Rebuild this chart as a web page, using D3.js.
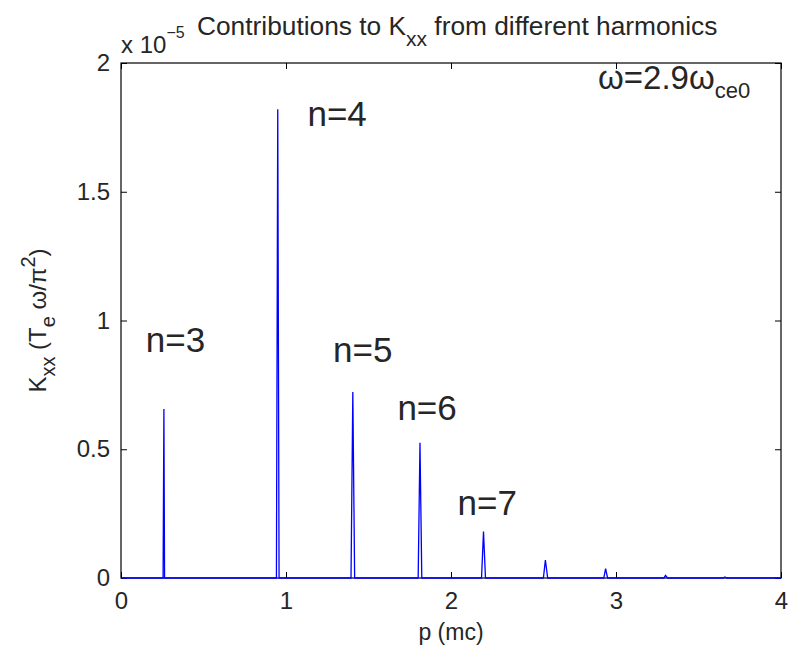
<!DOCTYPE html>
<html><head><meta charset="utf-8">
<script src="https://cdn.jsdelivr.net/npm/d3@7"></script>
<style>body{margin:0;background:#fff}svg{display:block}text{font-family:"Liberation Sans",Arial,sans-serif;fill:#262626}</style>
</head><body><svg id="c" width="792" height="647"></svg>
<script>
// momentum p (mc) and K_xx (units of 1e-5)
const pValues = [0, 0.255, 0.26, 0.264, 0.942, 0.95, 0.958, 1.394, 1.405, 1.416, 1.801, 1.812, 1.823, 2.185, 2.197, 2.209, 2.56, 2.572, 2.586, 2.926, 2.937, 2.949, 3.29, 3.30, 3.312, 3.65, 3.66, 3.672, 4];
const kValues = [0, 0, 0.656, 0, 0, 1.82, 0, 0, 0.722, 0, 0, 0.525, 0, 0, 0.18, 0, 0, 0.07, 0, 0, 0.036, 0, 0, 0.01, 0, 0, 0.004, 0, 0];
const xTicks = [0, 1, 2, 3, 4];
const yTicks = [0, 0.5, 1, 1.5, 2];
const labels = [
  {t: "n=3", p: 0.15, k: 0.878},
  {t: "n=4", p: 1.13, k: 1.757},
  {t: "n=5", p: 1.285, k: 0.84},
  {t: "n=6", p: 1.675, k: 0.612},
  {t: "n=7", p: 2.04, k: 0.243}
];

const svg = d3.select("#c");
const L = 121, R = 781, T = 63, B = 578;
const x = d3.scaleLinear().domain([0, 4]).range([L, R]);
const y = d3.scaleLinear().domain([0, 2]).range([B, T]);

svg.append("rect").attr("x", L).attr("y", T).attr("width", R - L).attr("height", B - T)
  .attr("fill", "none").attr("stroke", "#000").attr("stroke-width", 1.2);

const fs = 24;
const xb = svg.append("g").attr("transform", `translate(0,${B})`)
  .call(d3.axisBottom(x).tickValues(xTicks).tickFormat(d3.format("d")).tickSizeInner(-6).tickSizeOuter(0).tickPadding(14));
const xt = svg.append("g").attr("transform", `translate(0,${T})`)
  .call(d3.axisTop(x).tickValues(xTicks).tickFormat("").tickSizeInner(-6).tickSizeOuter(0));
const yl = svg.append("g").attr("transform", `translate(${L},0)`)
  .call(d3.axisLeft(y).tickValues(yTicks).tickFormat(d => d % 1 === 0 ? d3.format("d")(d) : d3.format(".1f")(d)).tickSizeInner(-6).tickSizeOuter(0).tickPadding(11));
const yr = svg.append("g").attr("transform", `translate(${R},0)`)
  .call(d3.axisRight(y).tickValues(yTicks).tickFormat("").tickSizeInner(-6).tickSizeOuter(0));
[xb, xt, yl, yr].forEach(g => {
  g.select(".domain").remove();
  g.selectAll(".tick line").attr("stroke", "#000").attr("stroke-width", 1);
  g.selectAll("text").attr("font-size", fs).attr("fill", "#000").style("font-family", "Liberation Sans, Arial, sans-serif");
});
xb.selectAll("text").attr("dy", "0.71em");

const line = d3.line().x((d, i) => x(pValues[i])).y((d, i) => y(kValues[i]));
svg.append("path").datum(kValues).attr("d", line)
  .attr("fill", "none").attr("stroke", "#0000ff").attr("stroke-width", 1.3);

svg.selectAll(".ann").data(labels).enter().append("text")
  .attr("x", d => x(d.p)).attr("y", d => y(d.k))
  .attr("font-size", 35).text(d => d.t);

const om = svg.append("text").attr("x", 598).attr("y", 89).attr("font-size", 33);
om.append("tspan").text("ω=2.9ω");
om.append("tspan").attr("font-size", 22).attr("dy", 9).text("ce0");

const tt = svg.append("text").attr("x", 197).attr("y", 35).attr("font-size", 26.3).attr("fill", "#000");
tt.append("tspan").text("Contributions to K");
tt.append("tspan").attr("font-size", 21).attr("dy", 11).text("xx");
tt.append("tspan").attr("dy", -11).text(" from different harmonics");

const ex = svg.append("text").attr("x", 121).attr("y", 53).attr("font-size", 24).attr("fill", "#000");
ex.append("tspan").text("x 10");
ex.append("tspan").attr("font-size", 16).attr("dy", -15).text("−5");

svg.append("text").attr("x", (L + R) / 2).attr("y", 640).attr("text-anchor", "middle")
  .attr("font-size", 23).attr("fill", "#000").text("p (mc)");

const yt = svg.append("text").attr("transform", `translate(46,${(T + B) / 2}) rotate(-90)`)
  .attr("text-anchor", "middle").attr("font-size", 24).attr("fill", "#000");
yt.append("tspan").text("K");
yt.append("tspan").attr("font-size", 20).attr("dy", 9).text("xx");
yt.append("tspan").attr("dy", -9).text(" (T");
yt.append("tspan").attr("font-size", 20).attr("dy", 9).text("e");
yt.append("tspan").attr("dy", -9).text(" ω/π");
yt.append("tspan").attr("font-size", 20).attr("dy", -11).text("2");
yt.append("tspan").attr("dy", 11).text(")");
</script></body></html>
